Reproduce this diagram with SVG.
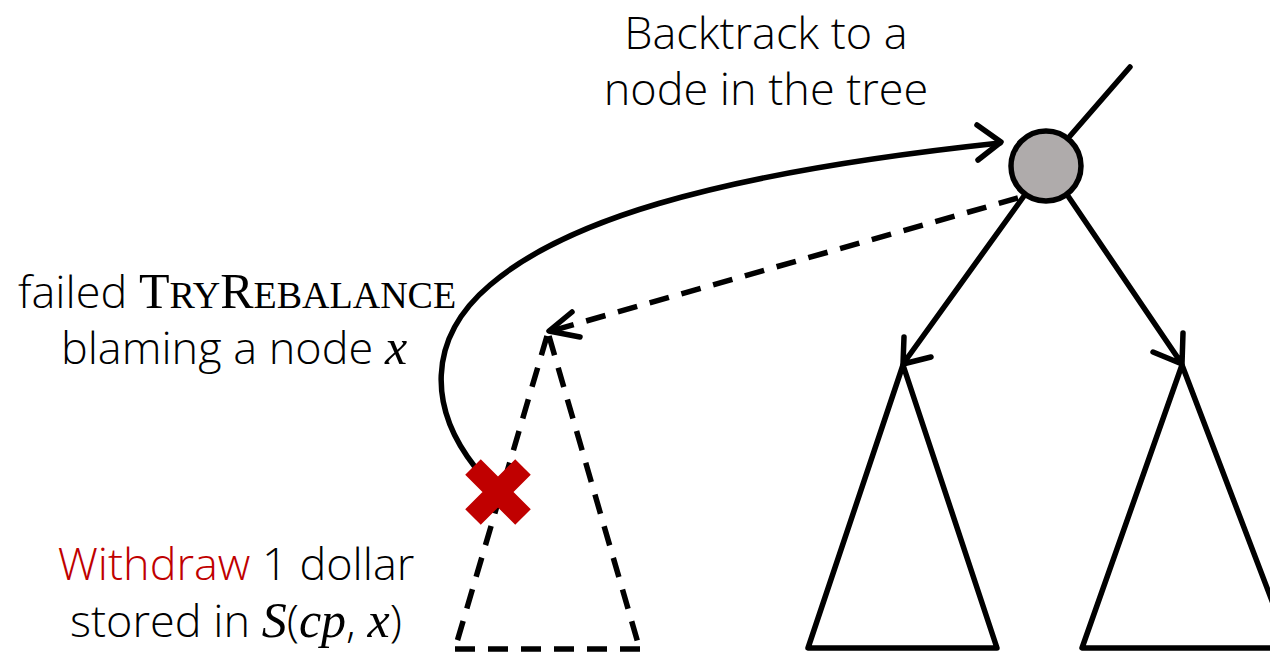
<svg xmlns="http://www.w3.org/2000/svg" width="1270" height="652" viewBox="0 0 1270 652">
<style>
.t{font-family:"Open Sans",sans-serif;font-weight:300;font-size:45px;fill:#000}
.sc{font-family:"Liberation Serif",serif;font-weight:400}
.m{font-family:"Liberation Serif",serif;font-style:italic;font-size:50px}
.red{fill:#c00000}
.sol{fill:none;stroke:#000;stroke-width:5.5;stroke-linecap:round;stroke-linejoin:round}
.dash{fill:none;stroke:#000;stroke-width:5.5;stroke-dasharray:20 13}
</style>
<rect width="1270" height="652" fill="#fff"/>
<g id="connectors">
<path class="sol" d="M1070,136 L1130,67"/>
<path class="sol" d="M1024,196 L903,364 M904,337 L903,364 L931,357"/>
<path class="sol" d="M1068,196 L1182,364 M1183,333 L1182,364 L1153,352"/>
<path class="dash" d="M1018,198 L551,331"/>
<path class="sol" d="M572,312 L549,331 L580,337"/>
<path class="sol" d="M475,467 C430,410 425,340 490,285 C560,225 700,175 1000,143"/>
<path class="sol" d="M977,125 L1001,142 L978,160"/>
</g>
<g id="root">
<circle cx="1046" cy="166" r="35" fill="#afabab" stroke="#000" stroke-width="5.5"/>
</g>
<g id="left-subtree">
<path class="sol" d="M903,365 L808,648 L997,648 Z"/>
</g>
<g id="right-subtree">
<path class="sol" d="M1182,365 L1082,648 L1290,648 Z"/>
</g>
<g id="dashed-subtree">
<path class="dash" d="M547,336 L454,652 M549,336 L640,650 M455,649 L642,649"/>
</g>
<g id="fail-mark">
<path d="M473,467 L523,517 M523,467 L473,517" stroke="#c00000" stroke-width="22" fill="none"/>
</g>
<g id="labels">
<text class="t" x="766" y="49" text-anchor="middle">Backtrack to a</text>
<text class="t" x="766" y="105" text-anchor="middle">node in the tree</text>
<text class="t" x="18" y="308">failed <tspan class="sc" font-size="50">T<tspan font-size="38">RY</tspan>R<tspan font-size="38">EBALANCE</tspan></tspan></text>
<text class="t" x="234" y="364" text-anchor="middle">blaming a node <tspan class="m">x</tspan></text>
<text class="t" x="236" y="580" text-anchor="middle"><tspan class="red">Withdraw</tspan> 1 dollar</text>
<text class="t" x="236" y="637" text-anchor="middle">stored in <tspan class="m">S</tspan>(<tspan class="m">cp</tspan>, <tspan class="m">x</tspan>)</text>
</g>
</svg>
